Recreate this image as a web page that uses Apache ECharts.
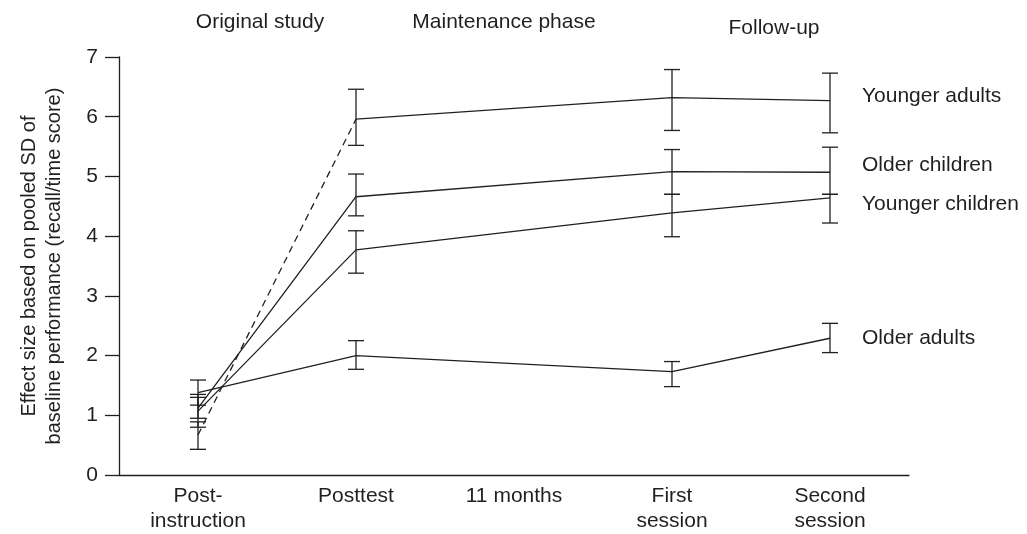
<!DOCTYPE html>
<html>
<head>
<meta charset="utf-8">
<script src="https://cdn.jsdelivr.net/npm/echarts@6/dist/echarts.min.js"></script>
<style>
html,body{margin:0;padding:0;background:#fff;}
#chart{width:1027px;height:534px;}
</style>
</head>
<body>
<div id="chart"></div>
<script>
// ---- data ----
var categories = ['Post-\ninstruction', 'Posttest', '11 months', 'First\nsession', 'Second\nsession'];
var yTicks = [0, 1, 2, 3, 4, 5, 6, 7];
var phaseLabels = ['Original study', 'Maintenance phase', 'Follow-up'];

var youngerAdults     = [0.67, 5.96, null, 6.32, 6.27];
var youngerAdultsLow  = [0.43, 5.52, null, 5.77, 5.73];
var youngerAdultsHigh = [0.89, 6.46, null, 6.79, 6.73];

var olderChildren     = [1.12, 4.66, null, 5.08, 5.07];
var olderChildrenLow  = [0.95, 4.34, null, 4.70, 4.70];
var olderChildrenHigh = [1.30, 5.04, null, 5.45, 5.49];

var youngerChildren     = [1.07, 3.77, null, 4.39, 4.64];
var youngerChildrenLow  = [0.80, 3.38, null, 3.99, 4.22];
var youngerChildrenHigh = [1.35, 4.09, null, 4.70, 4.70];

var olderAdults     = [1.38, 2.00, null, 1.73, 2.29];
var olderAdultsLow  = [1.17, 1.77, null, 1.48, 2.05];
var olderAdultsHigh = [1.59, 2.25, null, 1.90, 2.54];

// ---- helpers ----
var INK = '#231f20';
var FONT = '"Liberation Sans", Arial, Helvetica, sans-serif';

function toLine(arr) { return arr.map(function (v) { return v == null ? '-' : v; }); }
function errData(low, high) {
  var out = [];
  for (var i = 0; i < low.length; i++) {
    if (low[i] != null && high[i] != null) out.push([i, low[i], high[i]]);
  }
  return out;
}
function errSeries(low, high) {
  return {
    type: 'custom',
    silent: true,
    data: errData(low, high),
    encode: { x: 0, y: [1, 2] },
    z: 3,
    renderItem: function (params, api) {
      var x = api.value(0);
      var lo = api.coord([x, api.value(1)]);
      var hi = api.coord([x, api.value(2)]);
      var hw = 8;
      var style = { stroke: INK, lineWidth: 1.3 };
      return {
        type: 'group',
        children: [
          { type: 'line', shape: { x1: lo[0], y1: lo[1], x2: hi[0], y2: hi[1] }, style: style },
          { type: 'line', shape: { x1: lo[0] - hw, y1: lo[1], x2: lo[0] + hw, y2: lo[1] }, style: style },
          { type: 'line', shape: { x1: hi[0] - hw, y1: hi[1], x2: hi[0] + hw, y2: hi[1] }, style: style }
        ]
      };
    }
  };
}
function lineSeries(name, data, dy, dashed) {
  return {
    type: 'line',
    name: name,
    data: data,
    connectNulls: true,
    symbol: 'none',
    silent: true,
    z: 4,
    lineStyle: { color: INK, width: 1.3, type: dashed ? [7, 5] : 'solid' },
    endLabel: dashed ? { show: false } : {
      show: true,
      formatter: name,
      distance: 32,
      offset: [0, dy],
      color: INK,
      fontSize: 21,
      fontFamily: FONT
    }
  };
}

// younger adults: dashed first segment, solid thereafter
var yaDashed = youngerAdults.map(function (v, i) { return i <= 1 ? v : '-'; });
var yaSolid = youngerAdults.map(function (v, i) { return i >= 1 && v != null ? v : '-'; });

var chart = echarts.init(document.getElementById('chart'), null, { renderer: 'canvas' });
var phaseX = [255, 499, 769];
var phaseY = [7, 7, 13];

chart.setOption({
  animation: false,
  backgroundColor: '#fff',
  textStyle: { fontFamily: FONT, color: INK },
  title: phaseLabels.map(function (t, i) {
    return {
      text: t, left: phaseX[i], top: phaseY[i], textAlign: 'center',
      textStyle: { fontSize: 21, fontWeight: 'normal', color: INK, fontFamily: FONT }
    };
  }),
  grid: { left: 119, right: 118, top: 57, bottom: 57, containLabel: false },
  xAxis: {
    type: 'category',
    data: categories,
    boundaryGap: true,
    axisLine: { lineStyle: { color: INK, width: 1.3 } },
    axisTick: { show: false },
    axisLabel: { interval: 0, margin: 9, fontSize: 21, lineHeight: 25, color: INK, fontFamily: FONT }
  },
  yAxis: {
    type: 'value',
    min: yTicks[0],
    max: yTicks[yTicks.length - 1],
    interval: 1,
    name: 'Effect size based on pooled SD of\nbaseline performance (recall/time score)',
    nameLocation: 'middle',
    nameRotate: 90,
    nameGap: 52,
    nameTextStyle: { fontSize: 20, lineHeight: 25, color: INK, fontFamily: FONT },
    splitLine: { show: false },
    axisLine: { show: true, lineStyle: { color: INK, width: 1.3 } },
    axisTick: { show: true, length: 14, lineStyle: { color: INK, width: 1.3 } },
    axisLabel: { margin: 21, fontSize: 21, color: INK, fontFamily: FONT }
  },
  series: [
    lineSeries('Younger adults (original)', yaDashed, 0, true),
    lineSeries('Younger adults', yaSolid, -4, false),
    lineSeries('Older children', toLine(olderChildren), -7, false),
    lineSeries('Younger children', toLine(youngerChildren), 6, false),
    lineSeries('Older adults', toLine(olderAdults), 0, false),
    errSeries(youngerAdultsLow, youngerAdultsHigh),
    errSeries(olderChildrenLow, olderChildrenHigh),
    errSeries(youngerChildrenLow, youngerChildrenHigh),
    errSeries(olderAdultsLow, olderAdultsHigh)
  ]
});
</script>
</body>
</html>
